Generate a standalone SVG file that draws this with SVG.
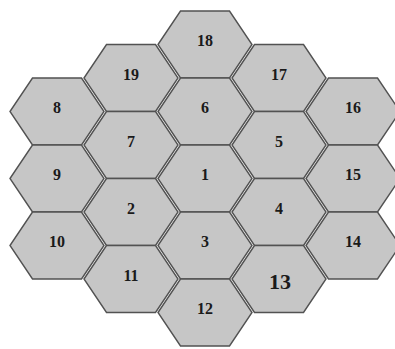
<svg xmlns="http://www.w3.org/2000/svg" xmlns:xlink="http://www.w3.org/1999/xlink" width="395" height="349" viewBox="0 0 395 349">
<style>
.hex{fill:#c6c6c6;stroke:#525252;stroke-width:1.4;stroke-linejoin:miter}
.lbl{font-family:"Liberation Serif","Times New Roman",serif;font-weight:bold;font-size:16px;fill:#1a1a1a;text-anchor:middle}
.big{font-size:22px}
</style>
<defs>
<polygon id="h" points="-47,0 -24.5,-33.5 24.5,-33.5 47,0 24.5,33.5 -24.5,33.5"/>
</defs>
<rect width="395" height="349" fill="#ffffff"/>
<g id="connectors"/>
<g id="n8"><use xlink:href="#h" href="#h" class="hex" transform="translate(57,111.5)"/><text class="lbl" x="57" y="113">8</text></g>
<g id="n9"><use xlink:href="#h" href="#h" class="hex" transform="translate(57,178.5)"/><text class="lbl" x="57" y="180">9</text></g>
<g id="n10"><use xlink:href="#h" href="#h" class="hex" transform="translate(57,245.5)"/><text class="lbl" x="57" y="247">10</text></g>
<g id="n19"><use xlink:href="#h" href="#h" class="hex" transform="translate(131,78)"/><text class="lbl" x="131" y="79.5">19</text></g>
<g id="n7"><use xlink:href="#h" href="#h" class="hex" transform="translate(131,145)"/><text class="lbl" x="131" y="146.5">7</text></g>
<g id="n2"><use xlink:href="#h" href="#h" class="hex" transform="translate(131,212)"/><text class="lbl" x="131" y="213.5">2</text></g>
<g id="n11"><use xlink:href="#h" href="#h" class="hex" transform="translate(131,279)"/><text class="lbl" x="131" y="280.5">11</text></g>
<g id="n18"><use xlink:href="#h" href="#h" class="hex" transform="translate(205,44.5)"/><text class="lbl" x="205" y="46">18</text></g>
<g id="n6"><use xlink:href="#h" href="#h" class="hex" transform="translate(205,111.5)"/><text class="lbl" x="205" y="113">6</text></g>
<g id="n1"><use xlink:href="#h" href="#h" class="hex" transform="translate(205,178.5)"/><text class="lbl" x="205" y="180">1</text></g>
<g id="n3"><use xlink:href="#h" href="#h" class="hex" transform="translate(205,245.5)"/><text class="lbl" x="205" y="247">3</text></g>
<g id="n12"><use xlink:href="#h" href="#h" class="hex" transform="translate(205,312.5)"/><text class="lbl" x="205" y="314">12</text></g>
<g id="n17"><use xlink:href="#h" href="#h" class="hex" transform="translate(279,78)"/><text class="lbl" x="279" y="79.5">17</text></g>
<g id="n5"><use xlink:href="#h" href="#h" class="hex" transform="translate(279,145)"/><text class="lbl" x="279" y="146.5">5</text></g>
<g id="n4"><use xlink:href="#h" href="#h" class="hex" transform="translate(279,212)"/><text class="lbl" x="279" y="213.5">4</text></g>
<g id="n13"><use xlink:href="#h" href="#h" class="hex" transform="translate(279,279)"/><text class="lbl big" x="280" y="289">13</text></g>
<g id="n16"><use xlink:href="#h" href="#h" class="hex" transform="translate(353,111.5)"/><text class="lbl" x="353" y="113">16</text></g>
<g id="n15"><use xlink:href="#h" href="#h" class="hex" transform="translate(353,178.5)"/><text class="lbl" x="353" y="180">15</text></g>
<g id="n14"><use xlink:href="#h" href="#h" class="hex" transform="translate(353,245.5)"/><text class="lbl" x="353" y="247">14</text></g>
</svg>
